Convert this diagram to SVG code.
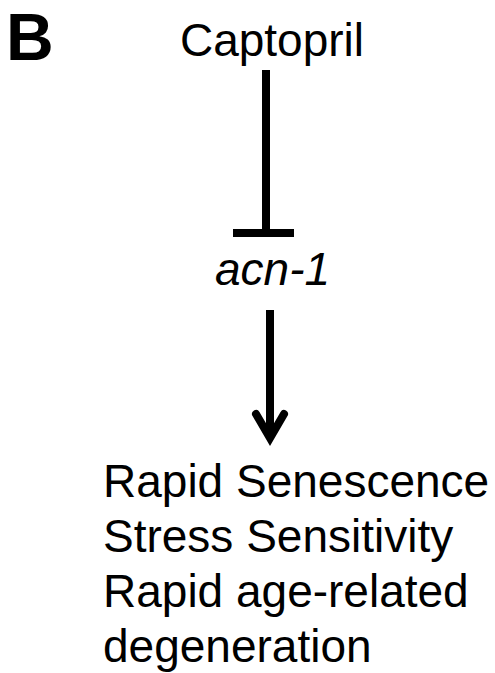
<svg xmlns="http://www.w3.org/2000/svg" width="495" height="673" viewBox="0 0 495 673">
  <style>
    .lbl { font-family: "Liberation Sans", Arial, Helvetica, sans-serif; font-size: 46px; fill: #000; }
    .panel { font-family: "Liberation Sans", Arial, Helvetica, sans-serif; font-size: 66px; font-weight: bold; fill: #000; }
    .edge { stroke: #000; stroke-width: 8; fill: none; }
  </style>
  <rect width="495" height="673" fill="#fff"/>

  <text class="panel" x="6" y="60">B</text>

  <g id="captopril">
    <text class="lbl" x="272" y="56" text-anchor="middle">Captopril</text>
  </g>

  <g id="acn-1">
    <text class="lbl" x="215" y="285" font-style="italic">acn-1</text>
  </g>

  <g id="phenotypes">
    <text class="lbl" x="103" y="497">Rapid Senescence</text>
    <text class="lbl" x="103" y="552">Stress Sensitivity</text>
    <text class="lbl" x="103" y="607">Rapid age-related</text>
    <text class="lbl" x="103" y="662">degeneration</text>
  </g>

  <g id="connectors">
    <!-- inhibition: captopril -| acn-1 -->
    <line class="edge" x1="266" y1="70" x2="266" y2="229"/>
    <line class="edge" x1="233" y1="233" x2="294" y2="233" stroke-width="9"/>
    <!-- activation: acn-1 -> phenotypes -->
    <line class="edge" x1="270" y1="310" x2="270" y2="438"/>
    <polyline class="edge" points="256,414 270,438 284,414" stroke-linecap="round" stroke-linejoin="miter"/>
  </g>
</svg>
